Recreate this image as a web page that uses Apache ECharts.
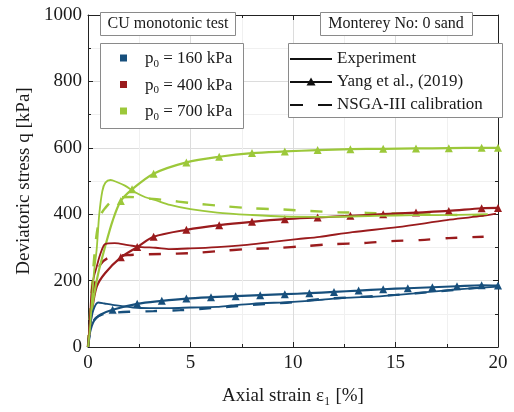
<!DOCTYPE html>
<html><head><meta charset="utf-8">
<script src="https://cdn.jsdelivr.net/npm/echarts@6/dist/echarts.min.js"></script>
<style>html,body{margin:0;padding:0;background:#fff}#c{width:514px;height:412px}</style>
</head><body><div id="c"></div>
<script>
// ---- data: [axial strain %, deviatoric stress kPa] ----
const exp160 = [[0,0],[0.1,61],[0.26,111],[0.5,134],[0.8,131],[1.2,127],[2.2,119],[3.0,117],[4.0,117],[5.0,119],[6.3,121],[7.0,125],[8.0,130],[10,136],[11.2,141],[12.5,148],[14,152],[15.1,157],[16.5,165],[17.7,172],[19,178],[20,182]];
const yang160 = [[0,0],[0.1,45],[0.3,80],[0.6,97],[1.2,112],[2.4,130],[3.6,139],[4.8,146],[6.0,150],[7.2,153],[8.4,156],[9.6,159],[10.8,162],[12.0,166],[13.2,170],[14.4,174],[15.6,177],[16.8,180],[18.0,183],[19.2,186],[20,185]];
const nsga160 = [[0,0],[0.15,60],[0.35,85],[0.7,98],[1.2,103],[2,106],[3.2,108],[4.5,111],[6,117],[8,127],[10,135],[11.5,145],[13,150],[15,157],[17,167],[19,178],[20,181]];

const exp400 = [[0,0],[0.1,90],[0.18,172],[0.3,215],[0.42,241],[0.55,270],[0.67,292],[0.83,310],[1.3,313],[1.95,307],[2.6,301],[3.3,299],[4.0,295],[5.0,297],[6.3,301],[7.6,307],[8.9,316],[10.2,325],[11.3,332],[12.9,346],[15.1,361],[17.5,382],[19.1,394],[19.9,402]];
const yang400 = [[0,0],[0.18,102],[0.42,181],[0.83,222],[1.6,270],[2.4,301],[3.2,332],[4.8,353],[6.4,367],[8.0,377],[9.6,385],[11.2,390],[12.8,395],[14.4,400],[16.0,405],[17.6,410],[19.2,418],[20,419]];
const nsga400 = [[0,0],[0.15,120],[0.35,200],[0.59,247],[0.98,268],[1.95,277],[3.6,280],[5.1,283],[6.4,289],[7.8,295],[9.2,298],[10.6,304],[12,310],[13.4,313],[14.8,319],[16.2,322],[17.6,328],[19.3,332]];

const exp700 = [[0,0],[0.1,60],[0.2,150],[0.3,230],[0.42,292],[0.55,400],[0.7,470],[0.85,495],[1.1,503],[1.4,497],[1.8,486],[2.3,466],[2.8,451],[3.3,442],[4.0,428],[5.0,415],[6.3,405],[7.9,398],[9.5,393],[11.8,392],[14,395],[16,397],[18,398],[19.5,400]];
const yang700 = [[0,0],[0.1,70],[0.26,142],[0.5,222],[0.83,301],[1.2,380],[1.6,440],[2.15,475],[3.2,522],[4.8,556],[6.4,573],[8.0,584],[9.6,589],[11.2,593],[12.8,596],[14.4,597],[16.0,598],[17.6,599],[19.2,600],[20,600]];
const nsga700 = [[0,0],[0.1,100],[0.25,230],[0.4,330],[0.6,395],[0.83,418],[1.3,446],[2,452],[3,447],[3.7,443],[5.1,433],[6.5,425],[7.9,418],[9.2,415],[10.7,410],[12.2,406],[13.6,404],[15.5,401],[17.7,398],[19.3,395]];

const yangMarkerFrom = {p160: 1.2, p400: 1.6, p700: 1.6};
const xTicks = [0, 5, 10, 15, 20];
const yTicks = [0, 200, 400, 600, 800, 1000];
const pressures = ['160', '400', '700'];

const C = {p160: '#174f7c', p400: '#9a1b1d', p700: '#9cc83a'};
const FAM = 'Liberation Serif';
const FONT = '"Liberation Serif", serif';

function yangData(arr, from) {
  return arr.map(p => p[0] >= from ? {value: p} : {value: p, symbol: 'none'});
}
const groups = [
  {key: 'p160', exp: exp160, yang: yang160, nsga: nsga160},
  {key: 'p400', exp: exp400, yang: yang400, nsga: nsga400},
  {key: 'p700', exp: exp700, yang: yang700, nsga: nsga700}
];
const series = [];
groups.forEach(g => {
  series.push({type: 'line', name: g.key + ' NSGA', data: g.nsga, smooth: 0.3, symbol: 'none',
    lineStyle: {color: C[g.key], width: 2.4, type: [12, 15]}, z: 2});
  series.push({type: 'line', name: g.key + ' Yang', data: yangData(g.yang, yangMarkerFrom[g.key]), smooth: 0.3,
    symbol: 'triangle', symbolSize: 8, showAllSymbol: true, itemStyle: {color: C[g.key]},
    lineStyle: {color: C[g.key], width: 2.2}, z: 3});
  series.push({type: 'line', name: g.key + ' Exp', data: g.exp, smooth: 0.3, symbol: 'none',
    lineStyle: {color: C[g.key], width: 1.8}, z: 4});
});

const axisCommon = {
  axisLine: {show: true, onZero: false, lineStyle: {color: '#222', width: 1}},
  axisTick: {show: true, inside: true, length: 5, lineStyle: {color: '#222'}},
  minorTick: {show: true, splitNumber: 2, length: 3, lineStyle: {color: '#222'}},
};
const txt = {fontFamily: FAM, fontSize: 19, color: '#1a1a1a'};

const legendTexts = ['Experiment', 'Yang et al., (2019)', 'NSGA-III calibration'];
const graphics = [];
graphics.push({type: 'rect', shape: {x: 100.5, y: 12.5, width: 135, height: 23}, style: {fill: '#fff', stroke: '#8a8a8a', lineWidth: 1}, z: 100});
graphics.push({type: 'text', x: 168, y: 24, style: {text: 'CU monotonic test', font: '16px ' + FONT, fill: '#1a1a1a', textAlign: 'center', textVerticalAlign: 'middle'}, z: 101});
graphics.push({type: 'rect', shape: {x: 100.5, y: 43.5, width: 143, height: 85}, style: {fill: '#fff', stroke: '#8a8a8a', lineWidth: 1}, z: 100});
pressures.forEach((p, i) => {
  const y = 58 + i * 26.5;
  graphics.push({type: 'rect', shape: {x: 120, y: y - 3.5, width: 7, height: 7}, style: {fill: C['p' + p]}, z: 101});
  graphics.push({type: 'text', x: 145, y: y + 1, style: {
    text: '{a|p}{b|0}{a| = ' + p + ' kPa}', textVerticalAlign: 'middle',
    rich: {a: {font: '17px ' + FONT, fill: '#1a1a1a'}, b: {font: '11px ' + FONT, fill: '#1a1a1a', padding: [10, 0, 0, 0]}}
  }, z: 101});
});
graphics.push({type: 'rect', shape: {x: 320.5, y: 12.5, width: 152, height: 23}, style: {fill: '#fff', stroke: '#8a8a8a', lineWidth: 1}, z: 100});
graphics.push({type: 'text', x: 396, y: 24, style: {text: 'Monterey No: 0 sand', font: '16px ' + FONT, fill: '#1a1a1a', textAlign: 'center', textVerticalAlign: 'middle'}, z: 101});
graphics.push({type: 'rect', shape: {x: 288.5, y: 43.5, width: 214, height: 74}, style: {fill: '#fff', stroke: '#8a8a8a', lineWidth: 1}, z: 100});
legendTexts.forEach((t, i) => {
  const y = 59 + i * 23;
  if (i === 2) {
    graphics.push({type: 'line', shape: {x1: 290, y1: y, x2: 303, y2: y}, style: {stroke: '#111', lineWidth: 2}, z: 101});
    graphics.push({type: 'line', shape: {x1: 318, y1: y, x2: 332, y2: y}, style: {stroke: '#111', lineWidth: 2}, z: 101});
  } else {
    graphics.push({type: 'line', shape: {x1: 290, y1: y, x2: 332, y2: y}, style: {stroke: '#111', lineWidth: 2}, z: 101});
  }
  if (i === 1) {
    graphics.push({type: 'polygon', shape: {points: [[311, y - 4.5], [315.5, y + 3.5], [306.5, y + 3.5]]}, style: {fill: '#111'}, z: 102});
  }
  graphics.push({type: 'text', x: 337, y: y, style: {text: t, font: '17px ' + FONT, fill: '#1a1a1a', textVerticalAlign: 'middle'}, z: 101});
});

const chart = echarts.init(document.getElementById('c'), null, {renderer: 'canvas'});
chart.setOption({
  animation: false,
  backgroundColor: '#fff',
  textStyle: {fontFamily: FAM},
  grid: {left: 88, right: 16, top: 15, bottom: 65},
  xAxis: [
    Object.assign({type: 'value', min: xTicks[0], max: xTicks[xTicks.length - 1], interval: 5, position: 'bottom',
      name: 'Axial strain ε₁ [%]', nameLocation: 'middle', nameGap: 40,
      nameTextStyle: txt,
      axisLabel: Object.assign({margin: 7, formatter: v => String(v)}, txt),
      splitLine: {show: true, lineStyle: {color: '#dcdcdc'}},
      minorSplitLine: {show: true, lineStyle: {color: '#f0f0f0'}}}, axisCommon),
    Object.assign({type: 'value', min: 0, max: 20, interval: 5, position: 'top',
      axisLabel: {show: false}, splitLine: {show: false}}, axisCommon)
  ],
  yAxis: [
    Object.assign({type: 'value', min: yTicks[0], max: yTicks[yTicks.length - 1], interval: 200, position: 'left',
      name: 'Deviatoric stress q [kPa]', nameLocation: 'middle', nameGap: 47,
      nameTextStyle: txt,
      axisLabel: Object.assign({margin: 6, formatter: v => String(v)}, txt),
      splitLine: {show: true, lineStyle: {color: '#dcdcdc'}},
      minorSplitLine: {show: true, lineStyle: {color: '#f0f0f0'}}}, axisCommon),
    Object.assign({type: 'value', min: 0, max: 1000, interval: 200, position: 'right',
      axisLabel: {show: false}, splitLine: {show: false}}, axisCommon)
  ],
  series: series,
  graphic: graphics
});
</script></body></html>
